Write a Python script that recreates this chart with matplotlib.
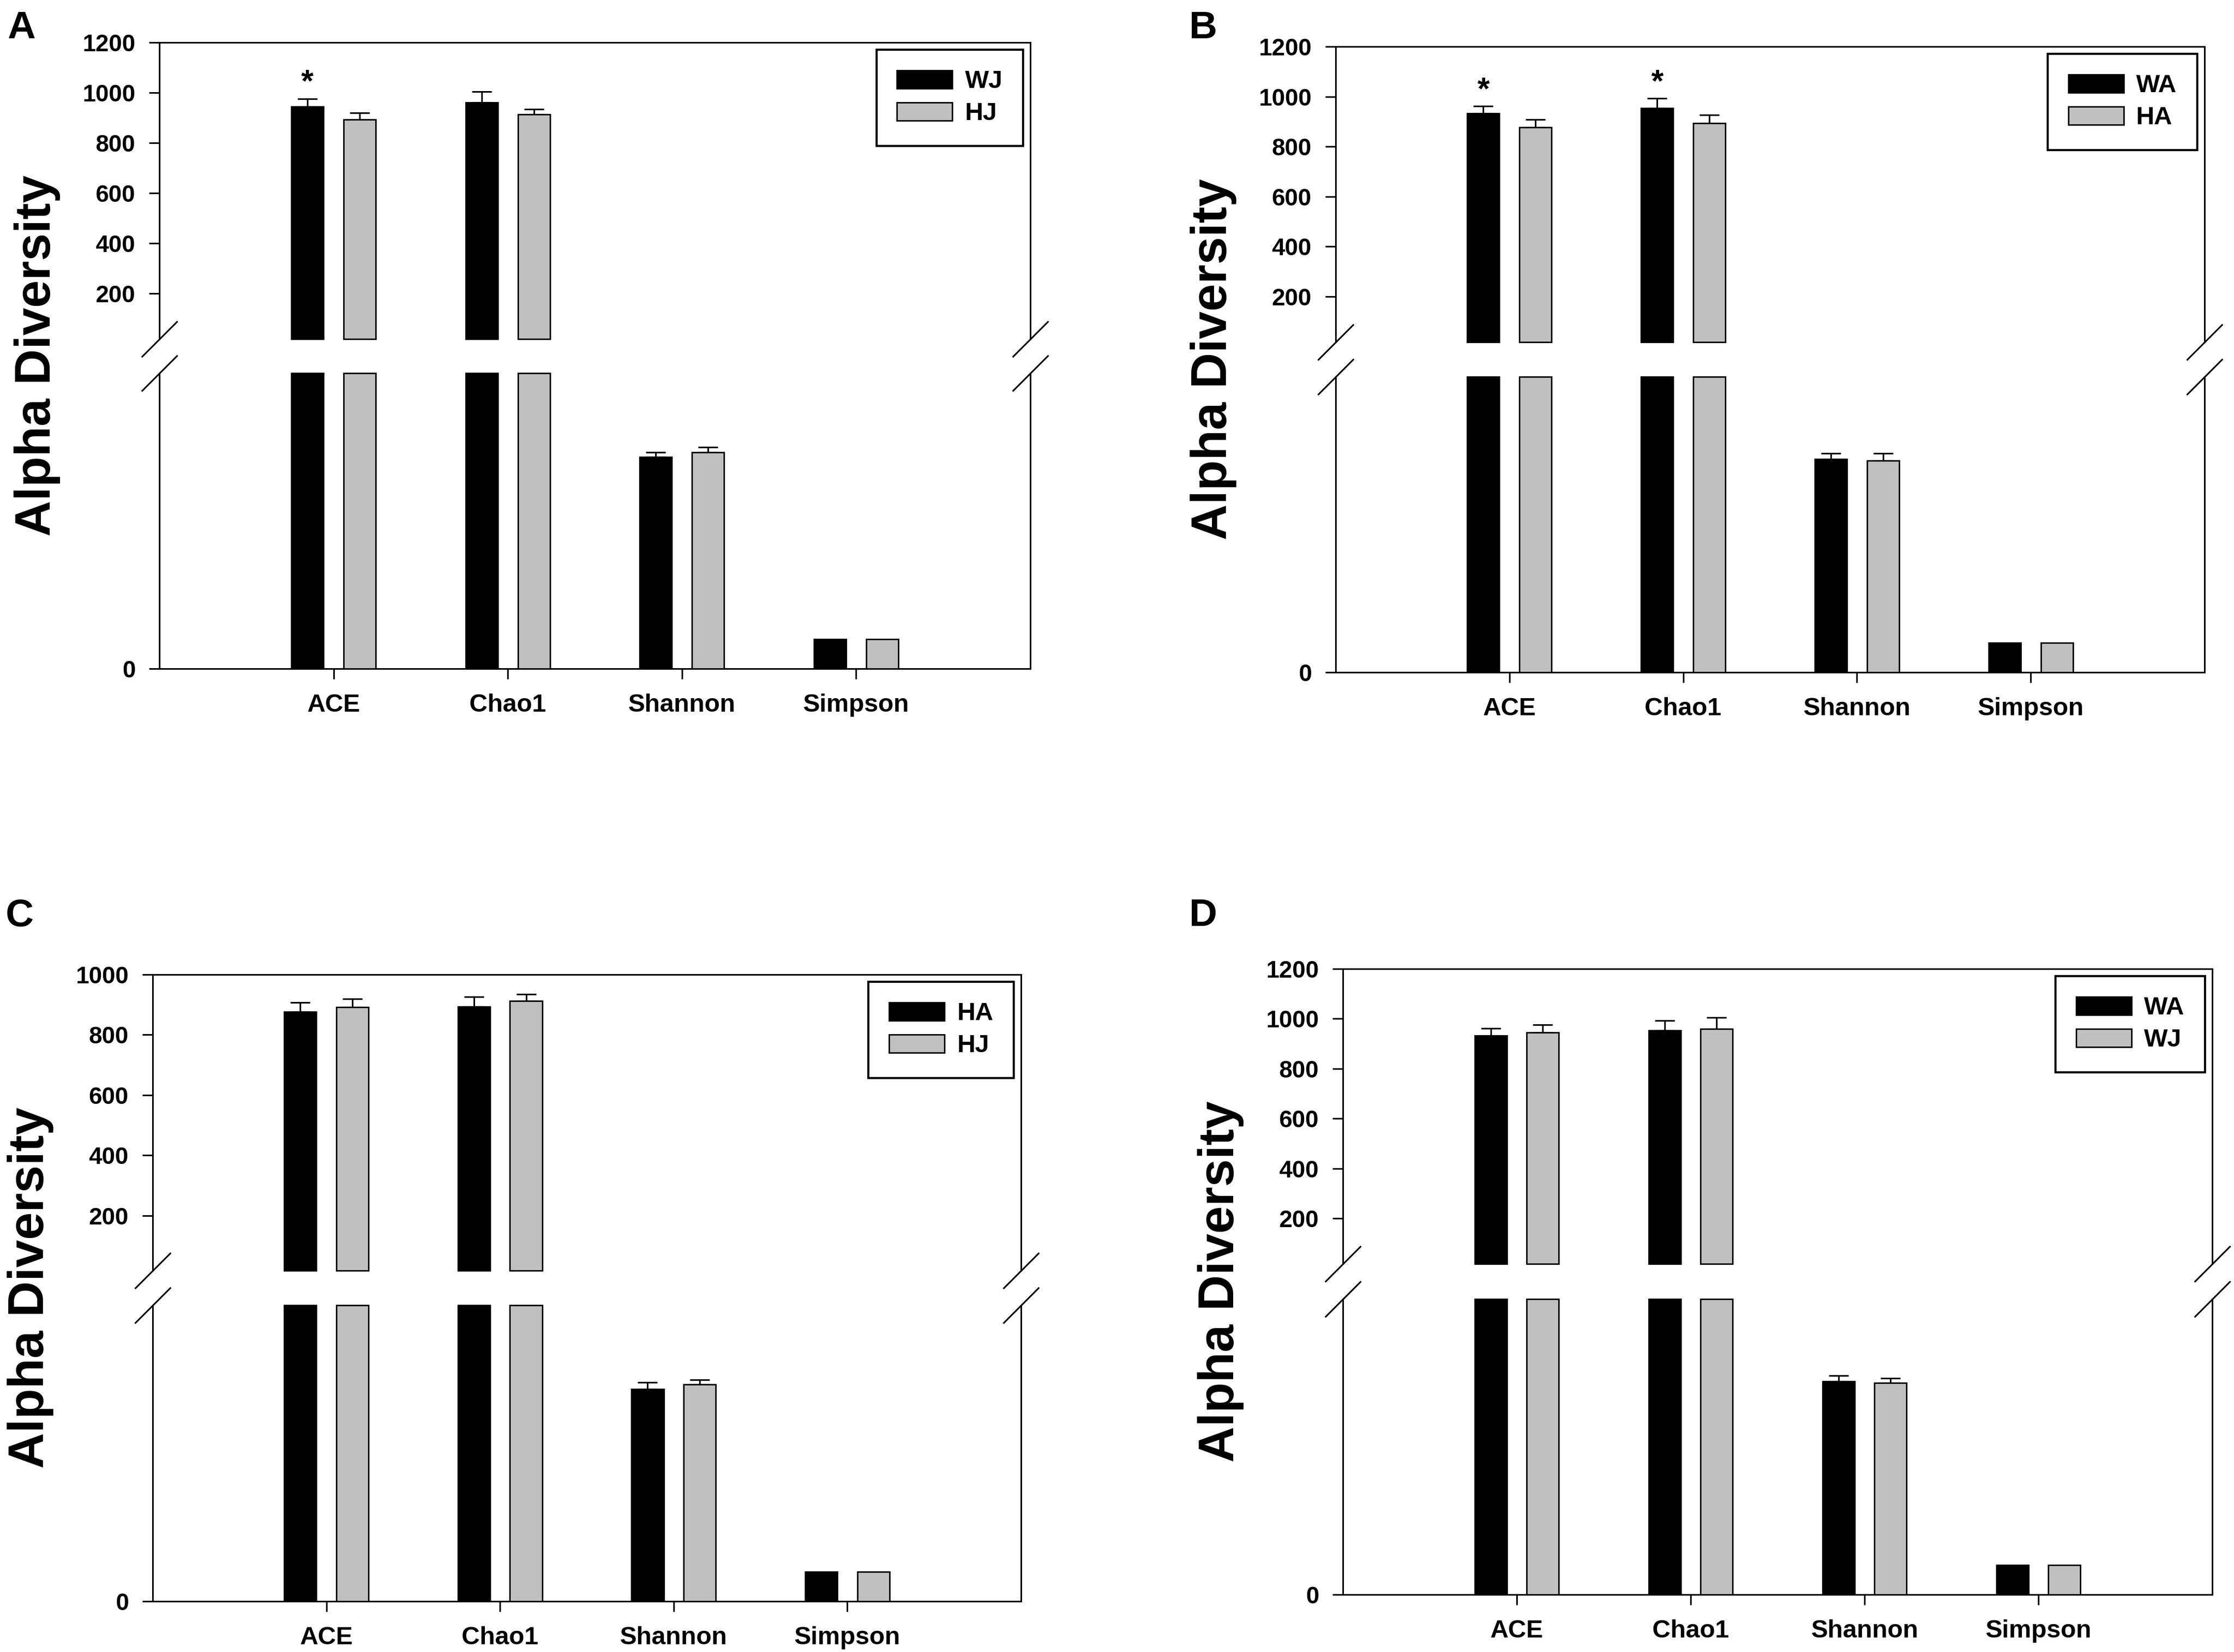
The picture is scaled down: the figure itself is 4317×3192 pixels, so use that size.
import matplotlib
matplotlib.use('agg')
import matplotlib.pyplot as plt
from matplotlib.patches import Patch

plt.rcParams['font.family'] = ['Liberation Sans', 'DejaVu Sans']
plt.rcParams['font.weight'] = 'bold'

W, H = 4317, 3192
DPI = 100

# --- data ---
categories = ['ACE', 'Chao1', 'Shannon', 'Simpson']

WJ_mean = [944, 960, 7.16, 0.99]
WJ_err = [32, 45, 0.16, 0]
HJ_mean = [892, 913, 7.32, 0.99]
HJ_err = [28, 21, 0.17, 0]
WA_mean = [933, 954, 7.21, 0.99]
WA_err = [28, 38, 0.20, 0]
HA_mean = [877, 893, 7.17, 0.99]
HA_err = [31, 33, 0.23, 0]

groups = {'WJ': (WJ_mean, WJ_err), 'HJ': (HJ_mean, HJ_err),
          'WA': (WA_mean, WA_err), 'HA': (HA_mean, HA_err)}

panel_letters = ['A', 'B', 'C', 'D']
panel_pairs = [('WJ', 'HJ'), ('WA', 'HA'), ('HA', 'HJ'), ('WA', 'WJ')]
panel_ymax = [1200, 1200, 1000, 1200]
panel_stars = [['ACE'], ['ACE', 'Chao1'], [], []]

# axis break ranges
upper_lo = 18
lower_hi = 10

# --- layout in pixels: left, right, top, upper bottom, lower top, bottom ---
boxes = [(308, 1991, 82, 655, 721, 1292),
         (2581, 4260, 90, 661, 728, 1299),
         (295, 1973, 1883, 2455, 2522, 3094),
         (2595, 4275, 1872, 2442, 2510, 3081)]
letter_pos = [(14, 20), (2298, 20), (11, 1735), (2298, 1735)]

GREY = '#c0c0c0'
bar_w = 0.185
off = 0.15


def draw_segment(ax, lo, hi, means, errs, xs, color):
    for x, m, e in zip(xs, means, errs):
        top = min(m, hi)
        if top <= lo:
            continue
        ax.bar(x, top - lo, bottom=lo, width=bar_w, color=color,
               edgecolor='black', linewidth=2, clip_on=False, zorder=3)
        if m < hi and e > 0:
            ax.errorbar(x, m, yerr=[[0], [e]], fmt='none', ecolor='black',
                        elinewidth=2.2, capsize=13.5, capthick=2.2, zorder=2)


fig = plt.figure(figsize=(W / DPI, H / DPI), dpi=DPI)

for i in range(4):
    L, R, T, UB, LT, B = boxes[i]
    ax_u = fig.add_axes([L / W, 1 - UB / H, (R - L) / W, (UB - T) / H])
    ax_l = fig.add_axes([L / W, 1 - B / H, (R - L) / W, (B - LT) / H])
    g1, g2 = panel_pairs[i]
    m1, e1 = groups[g1]
    m2, e2 = groups[g2]
    xs = list(range(1, len(categories) + 1))
    x1 = [x - off for x in xs]
    x2 = [x + off for x in xs]

    ymax = panel_ymax[i]
    for ax, lo, hi in [(ax_u, upper_lo, ymax), (ax_l, 0, lower_hi)]:
        draw_segment(ax, lo, hi, m1, e1, x1, 'black')
        draw_segment(ax, lo, hi, m2, e2, x2, GREY)
        ax.set_xlim(0, 5)
        ax.set_ylim(lo, hi)
        for s in ax.spines.values():
            s.set_linewidth(2.2)
        ax.tick_params(direction='out', length=14.5, width=2.2)
        ax.tick_params(axis='y', pad=19, labelsize=33)

    ax_u.spines['bottom'].set_visible(False)
    ax_u.set_xticks([])
    ax_u.set_yticks(list(range(200, ymax + 1, 200)))
    ax_l.spines['top'].set_visible(False)
    ax_l.set_yticks([0])
    ax_l.set_xticks(xs)
    ax_l.set_xticklabels(categories)
    ax_l.tick_params(axis='x', pad=20, labelsize=35)

    # break marks
    kw = dict(marker=[(-1, -1), (1, 1)], markersize=50, linestyle='none',
              color='k', mec='k', mew=2.2, clip_on=False, zorder=5)
    ax_u.plot([0, 1], [0, 0], transform=ax_u.transAxes, **kw)
    ax_l.plot([0, 1], [1, 1], transform=ax_l.transAxes, **kw)

    # significance stars over the first group
    for c in panel_stars[i]:
        k = categories.index(c)
        ax_u.text(x1[k], m1[k] + e1[k] + 30, '*', ha='center', va='baseline',
                  fontsize=44, fontweight='bold')

    handles = [Patch(facecolor='black', edgecolor='black', lw=2, label=g1),
               Patch(facecolor=GREY, edgecolor='black', lw=2, label=g2)]
    leg = ax_u.legend(handles=handles, loc='upper right',
                      prop={'weight': 'bold', 'size': 35},
                      frameon=True, fancybox=False, edgecolor='black',
                      framealpha=1, borderpad=0.82, handlelength=2.2,
                      handleheight=0.72, labelspacing=0.35,
                      handletextpad=0.5, borderaxespad=0.28)
    leg.get_frame().set_linewidth(3)

    fig.text((L - 236) / W, 1 - ((T + B) / 2) / H, 'Alpha Diversity',
             rotation=90, ha='center', va='center', fontsize=69,
             fontweight='bold')
    lx, ly = letter_pos[i]
    fig.text(lx / W, 1 - ly / H, panel_letters[i], ha='left', va='top',
             fontsize=54, fontweight='bold')

fig.savefig('out.png', dpi=DPI)
